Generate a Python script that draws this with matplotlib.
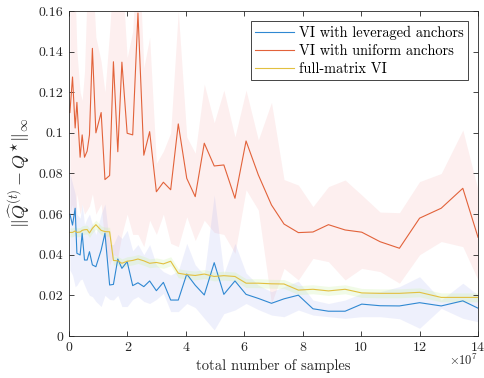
import numpy as np
import matplotlib
matplotlib.use('Agg')
import matplotlib.pyplot as plt
from matplotlib.ticker import FuncFormatter

plt.rcParams['font.family'] = 'serif'
plt.rcParams['font.serif'] = ['cmr10']
plt.rcParams['mathtext.fontset'] = 'cm'
plt.rcParams['axes.formatter.use_mathtext'] = True
plt.rcParams['axes.unicode_minus'] = False

# total number of samples (in units of 1e7)
samples = np.array([0.03, 0.12, 0.21, 0.27, 0.38, 0.45, 0.53, 0.62, 0.70, 0.80,
                    0.92, 1.10, 1.23, 1.39, 1.52, 1.67, 1.81, 1.99, 2.18, 2.36,
                    2.56, 2.76, 2.99, 3.23, 3.48, 3.74, 4.03, 4.32, 4.63, 4.97,
                    5.30, 5.68, 6.06, 6.48, 6.93, 7.36, 7.85, 8.35, 8.88, 9.45,
                    10.02, 10.65, 11.31, 12.0, 12.74, 13.48, 14.0]) * 1e7

# VI with leveraged anchors
lev = [0.060, 0.0546, 0.0629, 0.0407, 0.0399, 0.0506, 0.0374, 0.0374, 0.0415, 0.035,
       0.0341, 0.0423, 0.0506, 0.0251, 0.0254, 0.0379, 0.0333, 0.0366, 0.0248, 0.0262,
       0.0243, 0.0271, 0.0223, 0.0264, 0.0177, 0.0177, 0.0305, 0.025, 0.0202, 0.0361,
       0.0205, 0.0271, 0.0205, 0.0185, 0.0161, 0.0183, 0.0201, 0.0134, 0.0122, 0.0122,
       0.0157, 0.0149, 0.0148, 0.0164, 0.0148, 0.0173, 0.0137]
lev_hi = [0.08, 0.075, 0.07, 0.06, 0.058, 0.065, 0.055, 0.058, 0.06, 0.055,
          0.05, 0.06, 0.065, 0.045, 0.045, 0.05, 0.048, 0.052, 0.042, 0.045,
          0.04, 0.045, 0.035, 0.0317, 0.03, 0.032, 0.0456, 0.035, 0.03, 0.0694,
          0.0308, 0.0456, 0.031, 0.025, 0.0218, 0.0243, 0.027, 0.0177, 0.016, 0.0177,
          0.021, 0.0218, 0.0243, 0.0292, 0.0177, 0.026, 0.0202]
lev_lo = [0.0325, 0.03, 0.0243, 0.025, 0.0276, 0.028, 0.025, 0.022, 0.02, 0.0194,
          0.017, 0.0145, 0.02, 0.018, 0.0177, 0.02, 0.0145, 0.0145, 0.018, 0.0194,
          0.017, 0.016, 0.018, 0.021, 0.012, 0.012, 0.016, 0.014, 0.0087, 0.003,
          0.011, 0.0128, 0.016, 0.013, 0.0103, 0.0095, 0.0128, 0.0103, 0.0095, 0.0087,
          0.0095, 0.0095, 0.0085, 0.0038, 0.0136, 0.0087, 0.007]

# VI with uniform anchors
uni = [0.110, 0.1275, 0.1024, 0.115, 0.088, 0.099, 0.088, 0.091, 0.099, 0.1416,
       0.100, 0.110, 0.077, 0.079, 0.135, 0.0907, 0.1348, 0.0998, 0.099, 0.159,
       0.089, 0.1006, 0.071, 0.0757, 0.072, 0.1044, 0.0776, 0.0686, 0.0949, 0.0837,
       0.0842, 0.0678, 0.096, 0.0793, 0.0645, 0.0551, 0.0509, 0.0512, 0.0548, 0.0522,
       0.0511, 0.0464, 0.0432, 0.058, 0.0629, 0.0727, 0.0486]
uni_hi = [0.18, 0.18, 0.17, 0.14, 0.12, 0.116, 0.13, 0.17, 0.17, 0.18,
          0.147, 0.135, 0.12, 0.15, 0.18, 0.17, 0.18, 0.137, 0.15, 0.2,
          0.132, 0.147, 0.085, 0.091, 0.1, 0.16, 0.098, 0.09, 0.124, 0.105,
          0.121, 0.098, 0.121, 0.0965, 0.115, 0.077, 0.0743, 0.0637, 0.0735, 0.0768,
          0.0694, 0.061, 0.0607, 0.076, 0.080, 0.1014, 0.0719]
uni_lo = [0.06, 0.065, 0.05, 0.07, 0.06, 0.065, 0.06, 0.062, 0.064, 0.07,
          0.06, 0.065, 0.045, 0.035, 0.04, 0.039, 0.05, 0.06, 0.05, 0.05,
          0.044, 0.057, 0.05, 0.06, 0.0456, 0.044, 0.0587, 0.047, 0.057, 0.051,
          0.05, 0.0407, 0.072, 0.062, 0.016, 0.0333, 0.0276, 0.0382, 0.0366, 0.0276,
          0.0333, 0.0317, 0.026, 0.04, 0.0465, 0.044, 0.0276]

# full-matrix VI
full = [0.051, 0.051, 0.0517, 0.051, 0.0512, 0.052, 0.0523, 0.0524, 0.0507, 0.053,
        0.0548, 0.052, 0.0514, 0.0513, 0.0372, 0.037, 0.0358, 0.0368, 0.0372, 0.0379,
        0.037, 0.0358, 0.0362, 0.0355, 0.0368, 0.0309, 0.0302, 0.0298, 0.0305, 0.0293,
        0.0297, 0.0293, 0.026, 0.026, 0.0257, 0.0256, 0.0226, 0.023, 0.0222, 0.023,
        0.0212, 0.021, 0.021, 0.0215, 0.019, 0.019, 0.019]
full_err = 0.0022

c_blue = '#2f88d2'
c_orange = '#e2623a'
c_yellow = '#e2c040'

fig = plt.figure(figsize=(4.85, 3.78), dpi=100)
ax = fig.add_axes([0.1423, 0.1111, 0.8433, 0.8599])

ax.fill_between(samples, uni_lo, uni_hi, color='#f5b0b0', alpha=0.2, lw=0)
ax.fill_between(samples, lev_lo, lev_hi, color='#a0a8f0', alpha=0.17, lw=0)
full_a = np.array(full)
ax.fill_between(samples, full_a - full_err, full_a + full_err, color='#c8f0a0', alpha=0.25, lw=0)

ax.plot(samples, lev, color=c_blue, lw=0.8, label='VI with leveraged anchors')
ax.plot(samples, uni, color=c_orange, lw=0.8, label='VI with uniform anchors')
ax.plot(samples, full, color=c_yellow, lw=0.8, label='full-matrix VI')

ax.set_xlim(0, 14e7)
ax.set_ylim(0, 0.16)
ax.set_xticks(np.arange(0, 15, 2) * 1e7)
ax.set_yticks(np.arange(0, 0.17, 0.02))
ax.xaxis.set_major_formatter(FuncFormatter(lambda v, p: '%g' % (v / 1e7)))
ax.yaxis.set_major_formatter(FuncFormatter(lambda v, p: '%g' % round(v, 2)))
ax.tick_params(direction='in', length=3.5, width=0.6, colors='#262626',
               labelsize=10, top=True, right=True, pad=4)
for s in ax.spines.values():
    s.set_color('#262626')
    s.set_linewidth(0.6)

ax.set_xlabel('total number of samples', fontsize=10.5, color='#262626', labelpad=4)
ax.set_ylabel(r'$\|\widehat{Q}^{(t)} - Q^{\star}\|_\infty$', fontsize=13, color='#262626', labelpad=5)
ax.text(1.0, -0.053, r'$\times 10^7$', transform=ax.transAxes, ha='right', va='top',
        fontsize=9, color='#262626')

leg = ax.legend(loc='upper right', fontsize=10.4, fancybox=False, framealpha=1,
                edgecolor='#262626', handlelength=2.7, borderpad=0.3,
                labelspacing=0.3, handletextpad=0.3, borderaxespad=0.7)
leg.get_frame().set_linewidth(0.6)

fig.savefig('out.png', dpi=100)
